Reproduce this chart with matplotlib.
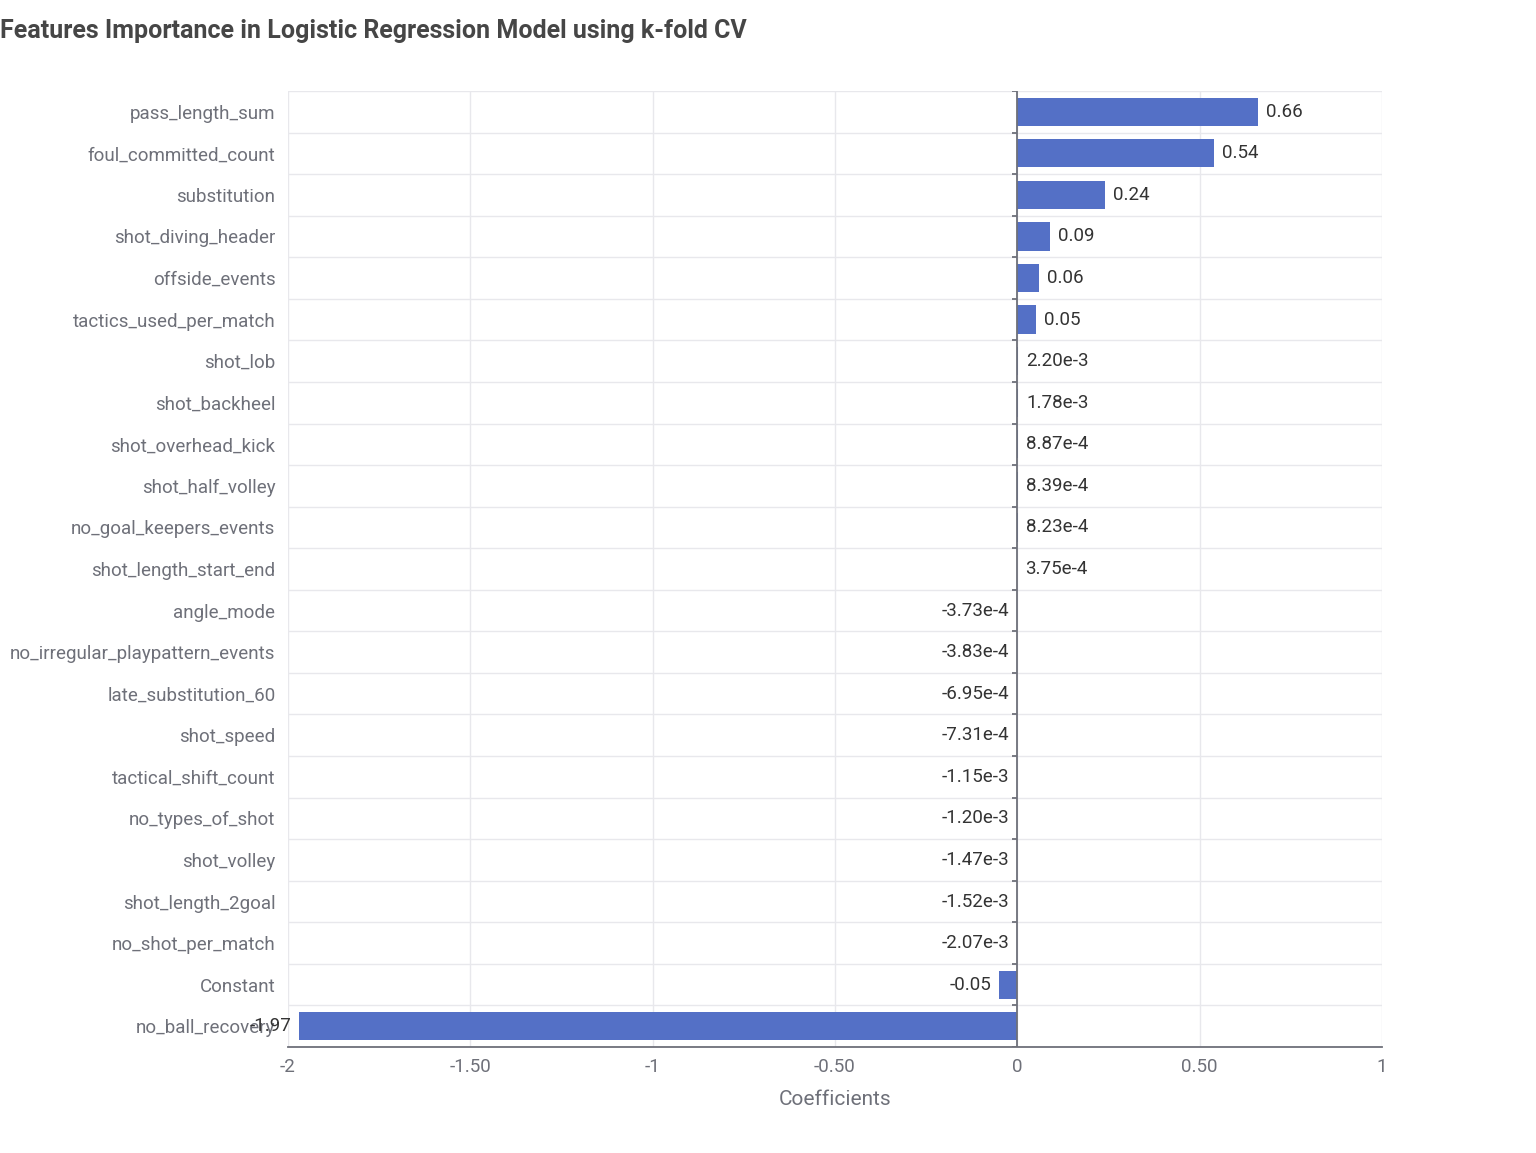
import matplotlib.pyplot as plt
import numpy as np

plt.rcParams['font.family'] = ['Roboto', 'DejaVu Sans']

features = ['pass_length_sum', 'foul_committed_count', 'substitution', 'shot_diving_header',
            'offside_events', 'tactics_used_per_match', 'shot_lob', 'shot_backheel',
            'shot_overhead_kick', 'shot_half_volley', 'no_goal_keepers_events',
            'shot_length_start_end', 'angle_mode', 'no_irregular_playpattern_events',
            'late_substitution_60', 'shot_speed', 'tactical_shift_count', 'no_types_of_shot',
            'shot_volley', 'shot_length_2goal', 'no_shot_per_match', 'Constant', 'no_ball_recovery']
coefs = [0.66, 0.54, 0.24, 0.09, 0.06, 0.05, 2.20e-3, 1.78e-3, 8.87e-4, 8.39e-4, 8.23e-4,
         3.75e-4, -3.73e-4, -3.83e-4, -6.95e-4, -7.31e-4, -1.15e-3, -1.20e-3, -1.47e-3,
         -1.52e-3, -2.07e-3, -0.05, -1.97]
xticks = [-2, -1.5, -1, -0.5, 0, 0.5, 1]
xtick_labels = ['-2', '-1.50', '-1', '-0.50', '0', '0.50', '1']

BAR = '#5470c6'
GREY = '#6e7079'
GRID = '#e8e8ec'


def fmt(v):
    if abs(v) >= 0.01:
        return f'{v:.2f}'
    m, e = f'{v:.2e}'.split('e')
    return f'{m}e{int(e)}'


fig = plt.figure(figsize=(15.36, 11.53), dpi=100)
ax = fig.add_axes([0.1875, 0.0919, 0.7122, 0.8292])

n = len(features)
y = np.arange(n)
ax.barh(y, coefs, height=0.68, color=BAR, linewidth=0, zorder=3)

ax.set_ylim(n - 0.5, -0.5)
ax.set_xlim(-2, 1)

# band grid lines
for b in np.arange(-0.5, n, 1.0):
    ax.axhline(b, color=GRID, lw=1, zorder=1)
for xt in xticks:
    ax.axvline(xt, color=GRID, lw=1, zorder=1)

# zero axis with small ticks
ax.axvline(0, color=GREY, lw=1.3, zorder=4)
tick_len = 5 / 1094 * 3
ax.hlines(np.arange(-0.5, n, 1.0), -tick_len, 0, color=GREY, lw=1.3, zorder=4)

for spine in ['top', 'right', 'left']:
    ax.spines[spine].set_visible(False)
ax.spines['bottom'].set_color(GREY)
ax.spines['bottom'].set_linewidth(1.3)
ax.spines['bottom'].set_zorder(5)

ax.set_yticks(y)
ax.set_yticklabels(features, fontsize=13.5, color=GREY)
ax.set_xticks(xticks)
ax.set_xticklabels(xtick_labels, fontsize=13.5, color=GREY)
ax.tick_params(axis='y', length=0, pad=9)
ax.tick_params(axis='x', length=0, pad=8)
for lbl in ax.get_yticklabels():
    lbl.set_y(lbl.get_position()[1])

for yi, v in zip(y, coefs):
    if v >= 0:
        ax.annotate(fmt(v), (v, yi), xytext=(5.8, 0), textcoords='offset points',
                    ha='left', va='center', fontsize=13.5, color='#333333', zorder=6)
    else:
        ax.annotate(fmt(v), (v, yi), xytext=(-5.5, 0), textcoords='offset points',
                    ha='right', va='center', fontsize=13.5, color='#333333', zorder=6,
                    annotation_clip=False)

ax.set_xlabel('Coefficients', fontsize=15, color=GREY, labelpad=10)

fig.text(0.0, 0.973, 'Features Importance in Logistic Regression Model using k-fold CV',
         fontsize=18, fontweight='bold', color='#464646', ha='left', va='center')

fig.savefig('out.png', dpi=100, facecolor='white')
